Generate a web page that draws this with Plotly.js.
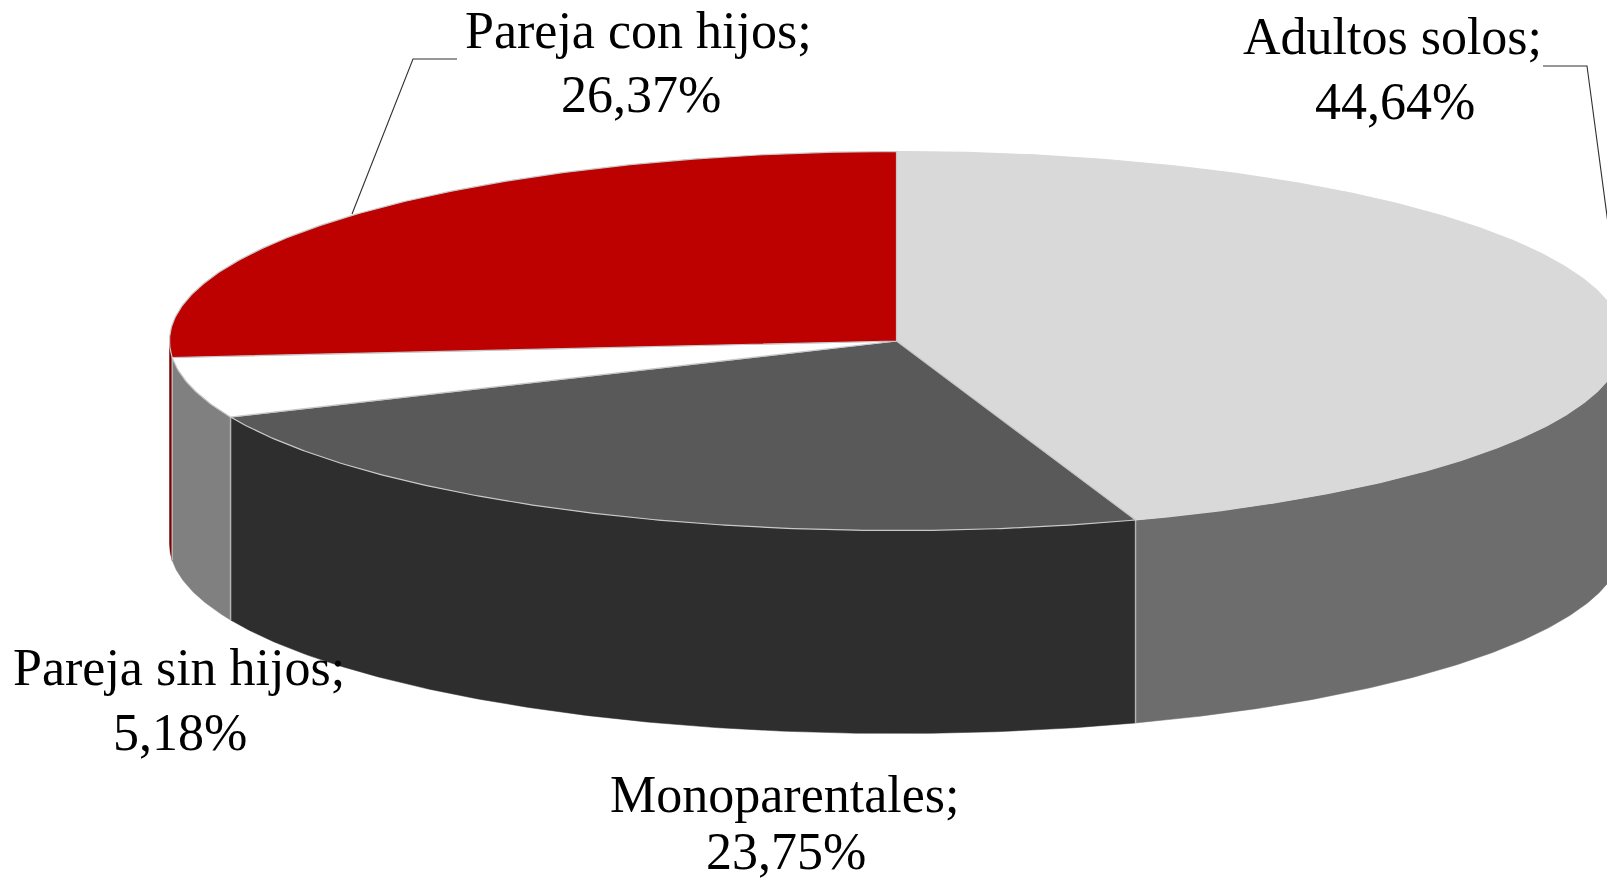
<!DOCTYPE html>
<html>
<head>
<meta charset="utf-8">
<script src="https://cdn.plot.ly/plotly-3.0.1.min.js"></script>
<style>html,body{margin:0;padding:0;background:#fff;overflow:hidden}#chart{width:1607px;height:883px}</style>
</head>
<body>
<div id="chart"></div>
<script>
const categories = ["Adultos solos", "Monoparentales", "Pareja sin hijos", "Pareja con hijos"];
const values = [44.64, 23.75, 5.18, 26.37];
const topColors = ["#d9d9d9", "#595959", "#ffffff", "#bd0000"];
const sideColors = ["#6d6d6d", "#2e2e2e", "#808080", "#7a0000"];

// Projection of the tilted disc, in axis units
const cx = 896.5, cy = 341, rx = 727, ry = 189.5, depth = 203;
const edgeColor = "#c8c8c8";

const px = deg => cx + rx * Math.sin(deg * Math.PI / 180);
const py = deg => cy - ry * Math.cos(deg * Math.PI / 180);
function arc(a0, a1) {
  const n = Math.max(2, Math.ceil(Math.abs(a1 - a0) / 0.5));
  const out = [];
  for (let i = 0; i <= n; i++) out.push(a0 + (a1 - a0) * i / n);
  return out;
}

const total = values.reduce((s, v) => s + v, 0);
let cum = 0;
const spans = values.map(v => { const s = [cum, cum + v / total * 360]; cum = s[1]; return s; });

const sideTraces = [], topTraces = [], seamTraces = [];
spans.forEach(([a0, a1], i) => {
  const top = arc(a0, a1);
  topTraces.push({
    type: "scatter", mode: "lines", fill: "toself", fillcolor: topColors[i],
    x: [cx, ...top.map(px), cx], y: [cy, ...top.map(py), cy],
    line: {color: i === 0 ? "#d9d9d9" : edgeColor, width: 1.2},
    name: categories[i], hoverinfo: "name", showlegend: false
  });
  const s0 = Math.max(a0, 90), s1 = Math.min(a1, 270);
  if (s1 > s0) {
    const f = arc(s0, s1);
    sideTraces.push({
      type: "scatter", mode: "lines", fill: "toself", fillcolor: sideColors[i],
      x: [...f.map(px), ...f.slice().reverse().map(px), px(f[0])],
      y: [...f.map(py), ...f.slice().reverse().map(d => py(d) + depth), py(f[0])],
      line: {color: sideColors[i], width: 0.5},
      name: categories[i], hoverinfo: "name", showlegend: false
    });
    if (a0 >= 90 && a0 <= 270 && i > 0) {
      seamTraces.push({
        type: "scatter", mode: "lines", x: [px(a0), px(a0)], y: [py(a0), py(a0) + depth],
        line: {color: "#b4b4b4", width: 1.5}, hoverinfo: "skip", showlegend: false
      });
    }
  }
});

const fmt = v => v.toFixed(2).replace(".", ",") + "%";
const nameX = [1392, 784, 179, 638];
const valueX = [1395, 786, 180, 641];
const nameY = [36, 794, 667, 30];
const valueY = [101, 851, 732, 94];
const labelFont = {family: "Liberation Serif, serif", size: 52, color: "#000000"};
const annotation = (x, y, text) => ({
  x, y, xref: "x", yref: "y", showarrow: false,
  xanchor: "center", yanchor: "middle", align: "center", text, font: labelFont
});
const annotations = categories.flatMap((c, i) => [
  annotation(nameX[i], nameY[i], c + ";"),
  annotation(valueX[i], valueY[i], fmt(values[i]))
]);

const leaderColor = "#303030";
const leaders = [
  {x: [1543, 1587, 1611], y: [66, 66, 246]},
  {x: [457, 413, 352], y: [59, 59, 214]}
].map(l => ({
  type: "scatter", mode: "lines", x: l.x, y: l.y,
  line: {color: leaderColor, width: 1.1}, hoverinfo: "skip", showlegend: false
}));

Plotly.newPlot("chart", [...sideTraces, ...seamTraces, ...topTraces, ...leaders], {
  width: 1607, height: 883,
  margin: {l: 0, r: 0, t: 0, b: 0, pad: 0},
  paper_bgcolor: "#ffffff", plot_bgcolor: "#ffffff",
  showlegend: false,
  xaxis: {range: [0, 1607], visible: false, fixedrange: true},
  yaxis: {range: [883, 0], visible: false, fixedrange: true},
  annotations
}, {displayModeBar: false, responsive: false});
</script>
</body>
</html>
